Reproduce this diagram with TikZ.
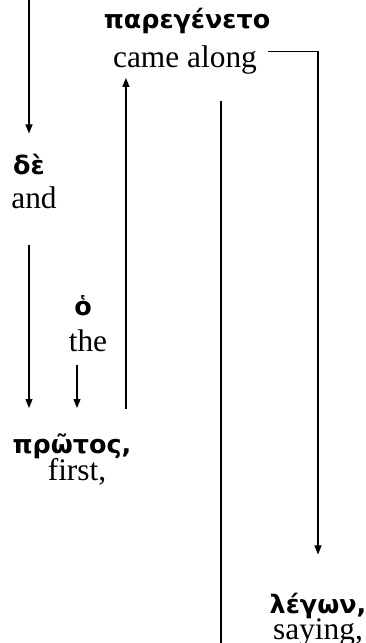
\documentclass[tikz,border=0pt]{standalone}
\usepackage{fontspec}
\setmainfont{Liberation Serif}
\newfontfamily\grfont{DejaVu Sans}
\usetikzlibrary{arrows.meta}
\begin{document}
\begin{tikzpicture}[x=1bp,y=-1bp,
  en/.style={inner sep=0pt,anchor=base,font=\fontsize{31.5}{36}\selectfont},
  gk/.style={inner sep=0pt,anchor=base,font=\grfont\bfseries\fontsize{25.5}{30}\selectfont},
  conn/.style={line width=1.2bp},
  arr/.style={conn,-{Triangle[length=9bp,width=7bp]}}]
\useasboundingbox (0,0) rectangle (365,643);
% nodes
\node[gk] (pare) at (187,29) {παρεγένετο};
\node[en] (came) at (185,68) {came along};
\node[gk] (de) at (29,175) {δὲ};
\node[en] (and) at (34,208) {and};
\node[gk] (ho) at (83,315) {ὁ};
\node[en] (the) at (88,351) {the};
\node[gk] (protos) at (72,453) {πρῶτος,};
\node[en] (first) at (77,480) {first,};
\node[gk] (legon) at (318,613) {λέγων,};
\node[en] (saying) at (318,639) {saying,};
\coordinate (top) at (29,0);
\coordinate (bot) at (221,643);
% connectors
\draw[arr,shorten >=21bp] (top) -- (top |- de.north);
\draw[arr,shorten <=36bp,shorten >=25bp] (de.south |- and.south) -- (de.south |- protos.north);
\draw[arr,shorten <=13bp,shorten >=25bp] ([xshift=-11bp]the.south) -- ([xshift=-11bp]the.south |- protos.north);
\draw[arr,shorten <=24bp,shorten >=3bp] ([xshift=13bp]came.west |- protos.north) -- ([xshift=13bp]came.south west);
\draw[conn,shorten <=26bp] (bot |- came.south) -- (bot);
\draw[arr,shorten >=38bp] ([xshift=11bp,yshift=9bp]came.east) -| (legon.north);
\end{tikzpicture}
\end{document}
